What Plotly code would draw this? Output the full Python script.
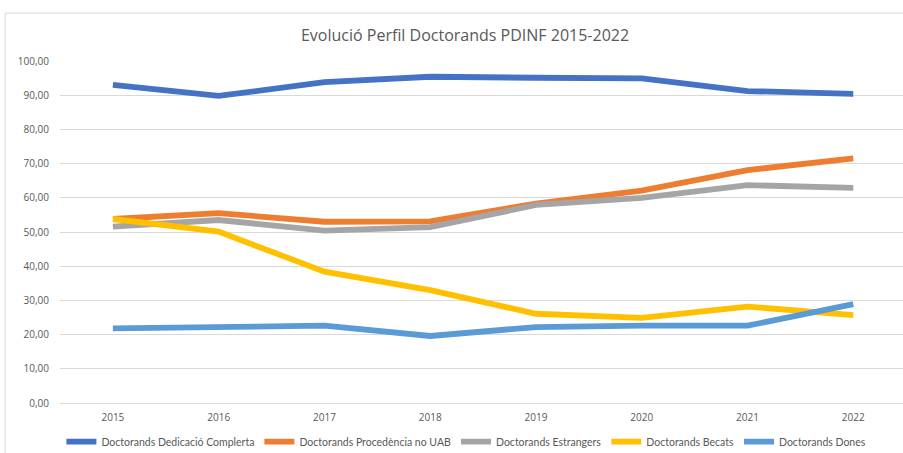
import plotly.graph_objects as go

years = ["2015", "2016", "2017", "2018", "2019", "2020", "2021", "2022"]

dedicacio = [93.0, 89.8, 93.8, 95.4, 95.1, 94.9, 91.2, 90.4]
procedencia = [53.8, 55.5, 53.0, 53.1, 58.3, 62.1, 68.1, 71.5]
estrangers = [51.6, 53.5, 50.4, 51.4, 57.9, 60.0, 63.7, 62.9]
becats = [53.8, 50.1, 38.4, 33.0, 26.1, 24.9, 28.2, 25.7]
dones = [21.8, 22.2, 22.6, 19.6, 22.2, 22.6, 22.6, 28.9]

series = [
    ("Doctorands Dedicació Complerta", dedicacio, "#4472C4"),
    ("Doctorands Procedència no UAB", procedencia, "#ED7D31"),
    ("Doctorands Estrangers", estrangers, "#A5A5A5"),
    ("Doctorands Becats", becats, "#FFC000"),
    ("Doctorands Dones", dones, "#5B9BD5"),
]

font_family = "Open Sans"
legend_font = "Lato"
text_color = "#595959"

fig = go.Figure()
for name, vals, color in series:
    fig.add_trace(go.Scatter(x=list(range(len(years))), y=vals, mode="lines", name=name,
                             line=dict(color=color, width=5.8)))

fig.update_layout(
    width=903, height=453,
    margin=dict(l=60, r=0, t=61, b=50, autoexpand=False),
    paper_bgcolor="white", plot_bgcolor="white",
    font=dict(family=font_family, color=text_color, size=10),
    title=dict(text="Evolució Perfil Doctorands PDINF 2015-2022",
               x=0.515, xanchor="center", y=0.922, yanchor="middle",
               font=dict(size=16, color=text_color, family=font_family)),
    showlegend=True,
    legend=dict(orientation="h", x=0.068, xref="container", xanchor="left",
                y=0.025, yref="container", yanchor="middle",
                font=dict(size=10.5, color=text_color, family=legend_font),
                itemwidth=30, tracegroupgap=0, traceorder="normal"),
    shapes=[dict(type="rect", xref="paper", yref="paper",
                 x0=-0.065, x1=1.01, y0=-0.16, y1=1.14,
                 line=dict(color="#D9D9D9", width=1), layer="below")],
)

fig.update_xaxes(
    tickmode="array", tickvals=list(range(len(years))), ticktext=years,
    range=[-0.5, 7.47], showgrid=False, zeroline=False, showline=False,
    ticks="", tickfont=dict(size=10, color=text_color), fixedrange=True,
    ticklabelstandoff=7,
)
fig.update_yaxes(
    range=[0, 100], dtick=10, tickformat=".2f",
    showgrid=True, gridcolor="#D9D9D9", gridwidth=1, zeroline=True,
    zerolinecolor="#D9D9D9", zerolinewidth=1, showline=False, ticks="",
    tickfont=dict(size=10, color=text_color), ticklabelstandoff=10,
)
fig.update_layout(separators=",.")

fig.write_html("out.html", config={"displayModeBar": False},
               post_script="document.body.style.margin='0';")
